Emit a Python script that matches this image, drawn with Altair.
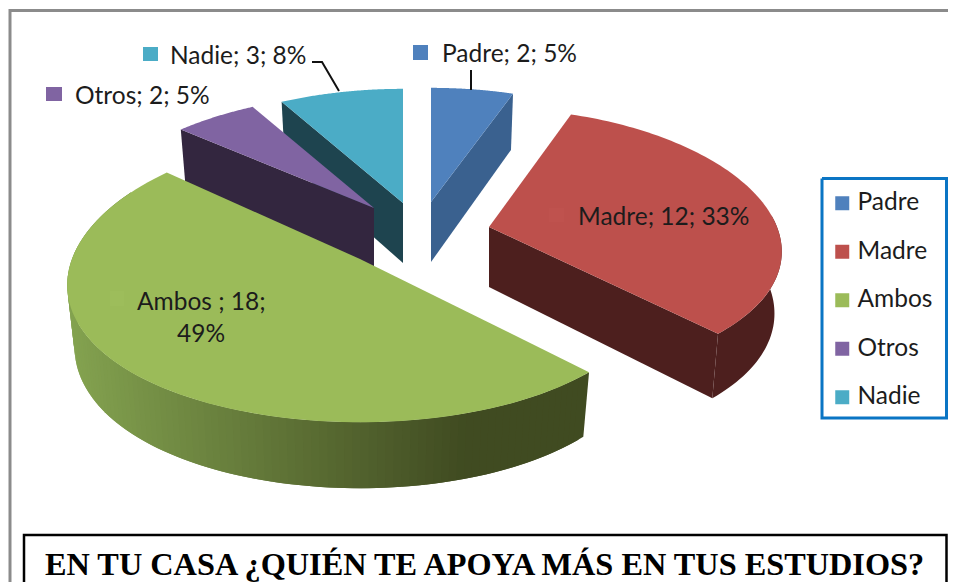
import math
import altair as alt
import pandas as pd

# ---- chart values ----
categories = ["Padre", "Madre", "Ambos", "Otros", "Nadie"]
values = [2, 12, 18, 2, 3]
percent_text = [5, 33, 49, 5, 8]
top_colors = ["#4f81bd", "#bd504c", "#9bbb59", "#8064a2", "#4bacc6"]
wall_colors = ["#3a618f", "#4d1f1e", "#3e4a20", "#33263f", "#1e444f"]
title_text = "EN TU CASA ¿QUIÉN TE APOYA MÁS EN TUS ESTUDIOS?"

# ---- look of the tilted pie (page pixels) ----
apex = {"Padre": (431, 202), "Madre": (489, 227), "Ambos": (360, 259),
        "Otros": (374, 208), "Nadie": (403, 203)}
rad_y = {"Padre": 129, "Madre": 134, "Ambos": 142, "Otros": 129, "Nadie": 129}
RX, KX, KY = 288, 0.18, 0.13
OFF = 8
FONT = "Lato"
FS = 24.5
LEG_SHIFT = 7

total = sum(values)
ang = {}
c = 0.0
for name, v in zip(categories, values):
    ang[name] = (c / total * 360, (c + v) / total * 360)
    c += v


def top_pt(name, t):
    a = math.radians(t)
    u, v = math.sin(a), -math.cos(a)
    ax, ay = apex[name]
    return (ax + RX * u / (1 - KX * v), ay + rad_y[name] * v / (1 - KY * v))


def low_pt(name, t):
    a = math.radians(t)
    v = -math.cos(a)
    x, y = top_pt(name, t)
    ax, _ = apex[name]
    return (ax + (x - ax) * 0.975, y + 61 + 5 * v)


def apex_low(name):
    ax, ay = apex[name]
    return (ax, ay + 60)


def feat(ring, **props):
    ring = [list(p) for p in ring]
    ring.append(ring[0])
    return {"type": "Feature", "properties": props,
            "geometry": {"type": "Polygon", "coordinates": [ring]}}


def collection(features):
    return alt.InlineData(values={"type": "FeatureCollection", "features": features},
                          format=alt.DataFormat(property="features", type="json"))


proj = dict(type="identity", scale=1, translate=[-OFF, -OFF])


def mix(x):
    f = min(1, max(0, (x - 75) / (470 - 75)))
    a, b = (0x84, 0xa3, 0x50), (0x40, 0x4b, 0x21)
    return "#%02x%02x%02x" % tuple(round(p + (q - p) * f) for p, q in zip(a, b))


def walls(name):
    i = categories.index(name)
    s, e = ang[name]
    col = wall_colors[i]
    fs = []
    if name == "Padre":
        fs.append(feat([apex[name], top_pt(name, e), low_pt(name, e), apex_low(name)], shade=col))
    elif name in ("Otros", "Nadie"):
        fs.append(feat([apex[name], top_pt(name, s), low_pt(name, s), apex_low(name)], shade=col))
    elif name == "Madre":
        fs.append(feat([apex[name], top_pt(name, e), low_pt(name, e), apex_low(name)], shade=col))
        n = 40
        ts = [85 + (e - 85) * k / n for k in range(n + 1)]
        ring = [top_pt(name, t) for t in ts] + [low_pt(name, t) for t in reversed(ts)]
        fs.append(feat(ring, shade=col))
    else:
        # shaded front wall: painted from the far end so that each strip overlaps the last
        n = 120
        end = 300
        ts = [s + (end - s) * k / n for k in range(n + 1)]
        for k in range(n - 1, -1, -1):
            t0, t1 = ts[k], ts[min(k + 2, n)]
            xm = (low_pt(name, ts[k])[0] + low_pt(name, ts[k + 1])[0]) / 2
            fs.append(feat([top_pt(name, t0), top_pt(name, t1), low_pt(name, t1), low_pt(name, t0)],
                           shade=mix(xm)))
    return fs


def top_face(name):
    s, e = ang[name]
    n = 90
    ring = [apex[name]] + [top_pt(name, s + (e - s) * k / n) for k in range(n + 1)]
    return feat(ring, cat=name)


color_enc = alt.Color(
    "properties.cat:N",
    scale=alt.Scale(domain=categories, range=top_colors),
    sort=categories,
    legend=alt.Legend(
        title=None, orient="none", legendX=841 - LEG_SHIFT - OFF - 4, legendY=191 - OFF,
        symbolType="square", symbolSize=196, symbolStrokeWidth=0, symbolOffset=0,
        labelFont=FONT, labelFontSize=FS, labelColor="#1c1c1c", labelOffset=3,
        rowPadding=23.5, padding=0, labelLimit=120,
    ),
)

layers = []
for name in ["Nadie", "Otros", "Padre", "Madre", "Ambos"]:
    layers.append(
        alt.Chart(collection(walls(name))).mark_geoshape(strokeWidth=0).encode(
            fill=alt.Fill("properties.shade:N", scale=None),
        ).project(**proj)
    )
    layers.append(
        alt.Chart(collection([top_face(name)])).mark_geoshape(strokeWidth=0).encode(
            color=color_enc
        ).project(**proj)
    )

# ---- data labels ----
label_rows = [
    {"t": "Padre; 2; 5%", "px": 442, "py": 62},
    {"t": "Madre; 12; 33%", "px": 578, "py": 225},
    {"t": "Ambos ; 18;", "px": 137, "py": 310},
    {"t": "Otros; 2; 5%", "px": 75, "py": 104},
    {"t": "Nadie; 3; 8%", "px": 170, "py": 64},
]
for r in label_rows:
    r["px"] -= OFF
    r["py"] -= OFF
text_layer = alt.Chart(pd.DataFrame(label_rows)).mark_text(
    align="left", baseline="alphabetic", font=FONT, fontSize=FS, color="#1c1c1c"
).encode(x=alt.X("px:Q", scale=None, axis=None), y=alt.Y("py:Q", scale=None, axis=None), text="t:N")
pct_layer = alt.Chart(pd.DataFrame([{"t": "49%", "px": 201 - OFF, "py": 342 - OFF}])).mark_text(
    align="center", baseline="alphabetic", font=FONT, fontSize=FS, color="#1c1c1c"
).encode(x=alt.X("px:Q", scale=None, axis=None), y=alt.Y("py:Q", scale=None, axis=None), text="t:N")

key_rows = [
    {"c": "#4f81bd", "x0": 413, "x1": 428, "y0": 45, "y1": 60},
    {"c": "#bf524e", "x0": 549, "x1": 564, "y0": 208, "y1": 222},
    {"c": "#9dbd5b", "x0": 110, "x1": 124, "y0": 291, "y1": 306},
    {"c": "#8064a2", "x0": 46, "x1": 62, "y0": 87, "y1": 101},
    {"c": "#4bacc6", "x0": 143, "x1": 158, "y0": 47, "y1": 61},
]
for r in key_rows:
    for k in ("x0", "x1", "y0", "y1"):
        r[k] -= OFF
key_layer = alt.Chart(pd.DataFrame(key_rows)).mark_rect().encode(
    x=alt.X("x0:Q", scale=None, axis=None), x2="x1:Q",
    y=alt.Y("y0:Q", scale=None, axis=None), y2="y1:Q",
    fill=alt.Fill("c:N", scale=None),
)


def polyline(points, color, width):
    rows = [{"px": p[0] - OFF, "py": p[1] - OFF, "o": i} for i, p in enumerate(points)]
    return alt.Chart(pd.DataFrame(rows)).mark_line(color=color, strokeWidth=width, interpolate="linear").encode(
        x=alt.X("px:Q", scale=None, axis=None), y=alt.Y("py:Q", scale=None, axis=None),
        order="o:Q",
    )


leaders = [
    polyline([(312, 62), (322, 62), (339, 91)], "#111111", 2),
    polyline([(471, 70), (471, 90)], "#111111", 2),
]
LX0, LX1 = 829 - LEG_SHIFT, 953.5 - LEG_SHIFT
frames = [
    polyline([(10, 590), (10, 10.5), (960, 10.5)], "#8b8b8b", 3),
    polyline([(24, 590), (24, 535), (946.5, 535), (946.5, 590)], "#000000", 2.5),
    polyline([(LX0, 178.5), (LX1, 178.5), (LX1, 418), (LX0, 418), (LX0, 178.5)], "#0a75c4", 3),
]
title_layer = alt.Chart(pd.DataFrame([{"t": title_text, "px": 45 - OFF, "py": 575 - OFF}])).mark_text(
    align="left", baseline="alphabetic", font="Liberation Serif", fontSize=32.3, fontWeight="bold", color="#000000"
).encode(x=alt.X("px:Q", scale=None, axis=None), y=alt.Y("py:Q", scale=None, axis=None), text="t:N")

chart = alt.layer(*layers, key_layer, text_layer, pct_layer, *leaders, *frames, title_layer).properties(
    width=940, height=574, padding=0, background="white",
    autosize=alt.AutoSizeParams(type="none"),
).configure_view(stroke=None)

chart.save("out.html", embed_options={"renderer": "svg", "actions": False})
